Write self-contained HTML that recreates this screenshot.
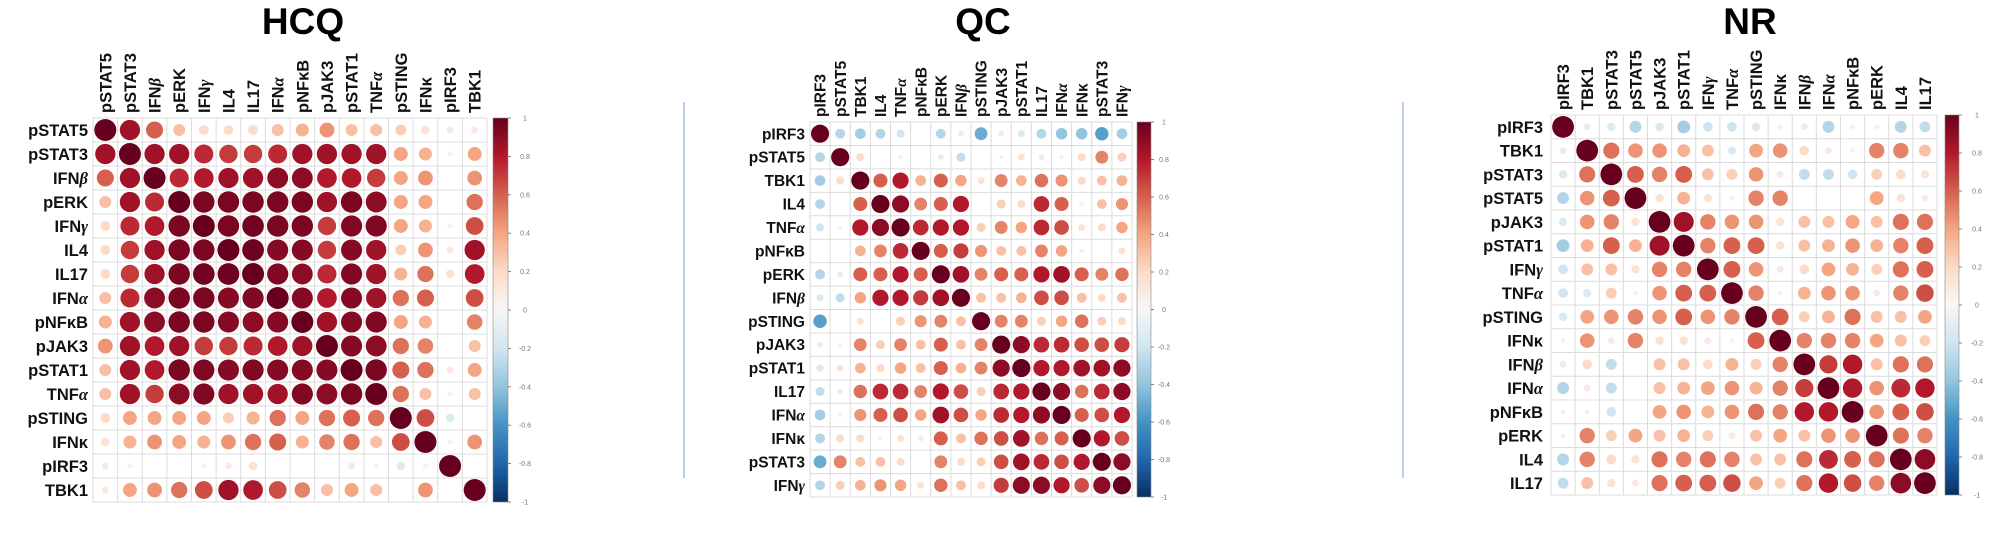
<!DOCTYPE html>
<html><head><meta charset="utf-8">
<style>
html,body{margin:0;padding:0;background:#fff;}
svg{display:block;font-family:"Liberation Sans",sans-serif;}
</style></head>
<body>
<svg id="fig" width="2000" height="534" viewBox="0 0 2000 534" xmlns="http://www.w3.org/2000/svg">
<line x1="684" y1="102" x2="684" y2="478" stroke="#a9bfe6" stroke-width="1.5"/>
<line x1="1403" y1="102" x2="1403" y2="478" stroke="#a9bfe6" stroke-width="1.5"/>
</svg>
<script>
const hcqLabels = ["pSTAT5","pSTAT3","IFNβ","pERK","IFNγ","IL4","IL17","IFNα","pNFκB","pJAK3","pSTAT1","TNFα","pSTING","IFNκ","pIRF3","TBK1"];
const hcqValues = [
[1,.85,.6,.3,.2,.2,.2,.3,.35,.45,.3,.3,.25,.15,-.1,.1],
[.85,1,.85,.85,.75,.7,.7,.75,.85,.85,.85,.85,.4,.35,-.05,.4],
[.6,.85,1,.75,.8,.85,.85,.9,.9,.8,.8,.7,.4,.45,0,.45],
[.3,.85,.75,1,.95,.95,.95,.95,.95,.85,.95,.9,.4,.4,0,.55],
[.2,.75,.8,.95,1,.95,.97,.95,.95,.7,.93,.93,.4,.35,.05,.65],
[.2,.7,.85,.95,.95,1,.98,.92,.92,.7,.92,.85,.25,.45,.1,.85],
[.2,.7,.85,.95,.97,.98,1,.93,.9,.75,.93,.85,.35,.55,.15,.8],
[.3,.75,.9,.95,.95,.92,.93,1,.92,.8,.92,.85,.55,.6,0,.65],
[.35,.85,.9,.95,.95,.92,.9,.92,1,.85,.92,.93,.4,.35,0,.5],
[.45,.85,.8,.85,.7,.7,.75,.8,.85,1,.92,.9,.55,.5,0,.3],
[.3,.85,.8,.95,.93,.92,.93,.92,.92,.92,1,.95,.6,.55,.1,.4],
[.3,.85,.7,.9,.93,.85,.85,.85,.93,.9,.95,1,.55,.3,.05,.3],
[.2,.4,.4,.4,.4,.25,.35,.55,.4,.55,.6,.55,1,.65,-.15,0],
[.15,.35,.45,.4,.35,.45,.55,.6,.35,.5,.55,.3,.65,1,-.05,.45],
[-.1,-.05,0,0,.05,.1,.15,0,0,0,.1,.05,-.15,-.05,1,0],
[.1,.4,.45,.55,.65,.85,.8,.65,.5,.3,.4,.3,0,.45,0,1]];
const qcLabels = ["pIRF3","pSTAT5","TBK1","IL4","TNFα","pNFκB","pERK","IFNβ","pSTING","pJAK3","pSTAT1","IL17","IFNα","IFNκ","pSTAT3","IFNγ"];
const qcValues = [
[1,-.3,-.35,-.3,-.2,0,-.3,-.1,-.5,-.1,-.15,-.3,-.4,-.4,-.55,-.35],
[-.3,1,.2,0,-.05,0,-.1,-.25,0,.05,.15,.1,-.05,.2,.5,.25],
[-.35,.2,1,.6,.8,.35,.6,.4,.15,.5,.35,.55,.45,.2,.3,.35],
[-.3,0,.6,1,.9,.5,.6,.8,0,.25,.2,.75,.6,.05,.3,.45],
[-.2,-.05,.8,.9,1,.75,.8,.8,.25,.5,.4,.75,.65,.15,.2,.4],
[0,0,.35,.5,.75,1,.6,.7,.45,.3,.3,.5,.4,.05,0,.15],
[-.3,-.1,.6,.6,.8,.6,1,.85,.5,.6,.6,.8,.85,.6,.5,.55],
[-.15,-.25,.4,.8,.8,.7,.85,1,.3,.3,.35,.65,.65,.3,.2,.3],
[-.55,0,.15,0,.25,.45,.5,.3,1,.5,.5,.25,.4,.55,.25,.2],
[-.1,.05,.5,.25,.5,.3,.6,.3,.5,1,.9,.75,.75,.65,.65,.7],
[-.15,.15,.35,.2,.4,.3,.6,.35,.5,.9,1,.8,.8,.85,.85,.9],
[-.25,.1,.55,.75,.75,.5,.8,.65,.25,.75,.8,1,.9,.55,.75,.9],
[-.35,-.05,.45,.6,.65,.4,.85,.65,.4,.75,.8,.9,1,.6,.65,.8],
[-.3,.2,.2,.05,.15,.1,.6,.3,.55,.65,.85,.55,.6,1,.8,.65],
[-.5,.5,.3,.3,.2,0,.5,.2,.25,.65,.85,.75,.65,.8,1,.9],
[-.3,.25,.35,.45,.4,.15,.55,.3,.2,.7,.9,.9,.8,.65,.9,1]];
const nrLabels = ["pIRF3","TBK1","pSTAT3","pSTAT5","pJAK3","pSTAT1","IFNγ","TNFα","pSTING","IFNκ","IFNβ","IFNα","pNFκB","pERK","IL4","IL17"];
const nrValues = [
[1,-.1,-.15,-.3,-.15,-.35,-.2,-.2,-.15,-.05,-.1,-.3,-.05,-.05,-.3,-.25],
[-.1,1,.55,.45,.45,.35,.3,-.15,.4,.45,.2,.1,.05,.5,.5,.3],
[-.15,.55,1,.6,.5,.6,.3,.25,.45,.1,-.25,-.25,-.2,.25,.2,.15],
[-.3,.45,.6,1,.15,.35,.15,.05,.5,.5,0,0,0,.4,.15,.1],
[-.15,.45,.5,.15,1,.85,.5,.45,.45,.15,.3,.3,.4,.3,.55,.55],
[-.35,.35,.6,.35,.85,1,.5,.6,.6,.15,.3,.35,.45,.35,.5,.6],
[-.2,.3,.3,.15,.5,.5,1,.6,.45,.1,.2,.4,.35,.25,.55,.6],
[-.2,-.15,.25,.05,.45,.6,.6,1,.5,.05,.35,.45,.45,.1,.5,.65],
[-.15,.4,.45,.5,.45,.6,.45,.5,1,.6,.25,.35,.55,.3,.3,.4],
[-.05,.45,.1,.5,.15,.15,.1,.05,.6,1,.5,.5,.5,.4,.3,.25],
[-.1,.2,-.25,0,.3,.3,.2,.35,.25,.5,1,.7,.8,.3,.55,.55],
[-.3,.1,-.25,0,.3,.35,.4,.45,.35,.5,.7,1,.8,.45,.75,.8],
[-.05,.05,-.2,0,.4,.45,.35,.45,.55,.5,.8,.8,1,.45,.6,.65],
[-.05,.5,.25,.4,.3,.35,.25,.1,.3,.4,.3,.45,.45,1,.55,.5],
[-.3,.5,.2,.15,.55,.5,.55,.5,.3,.3,.55,.75,.6,.55,1,.9],
[-.25,.3,.15,.1,.55,.6,.6,.65,.4,.25,.55,.8,.65,.5,.9,1]];
const colorbarTicks = [1,0.8,0.6,0.4,0.2,0,-0.2,-0.4,-0.6,-0.8,-1];
const panelTitles = ["HCQ","QC","NR"];

const NS = "http://www.w3.org/2000/svg";
const svg = document.getElementById("fig");
const stops = ["#053061","#2166AC","#4393C3","#92C5DE","#D1E5F0","#F7F7F7","#FDDBC7","#F4A582","#D6604D","#B2182B","#67001F"];
function hex(h){return [1,3,5].map(i=>parseInt(h.substr(i,2),16));}
function colorOf(v){
  const t=(Math.max(-1,Math.min(1,v))+1)/2*10; const i=Math.min(9,Math.floor(t)); const f=t-i;
  const a=hex(stops[i]), b=hex(stops[i+1]);
  return "rgb("+a.map((c,k)=>Math.round(c+(b[k]-c)*f)).join(",")+")";
}
function mk(tag, attrs, parent){const e=document.createElementNS(NS,tag);for(const k in attrs)e.setAttribute(k,attrs[k]);(parent||svg).appendChild(e);return e;}
function setLabel(t, label){
  const m = label.match(/^(.*?)([αβγ])$/);
  if(m){ t.appendChild(document.createTextNode(m[1])); const ts=document.createElementNS(NS,"tspan"); ts.setAttribute("font-style","italic"); ts.setAttribute("font-family","Liberation Serif, serif"); ts.textContent=m[2]; t.appendChild(ts);} else t.textContent=label;
}
const panels = [
 {labels:hcqLabels, values:hcqValues, x0:93, x1:487, y0:118, y1:502, cbx:493, cbw:15, tickx:525, titleX:303, rowEnd:88, fs:16.5},
 {labels:qcLabels, values:qcValues, x0:810, x1:1132, y0:122, y1:497, cbx:1137, cbw:14, tickx:1164, titleX:983, rowEnd:805, fs:15.5},
 {labels:nrLabels, values:nrValues, x0:1551, x1:1937, y0:115, y1:495, cbx:1945, cbw:14, tickx:1977, titleX:1750, rowEnd:1543, fs:16.5}
];
panels.forEach((p,pi)=>{
  const g = mk("g",{});
  
  
  const n=p.labels.length, cw=(p.x1-p.x0)/n, ch=(p.y1-p.y0)/n;
  const xS=j=>p.x0+cw*(j+0.5), yS=i=>p.y0+ch*(i+0.5);
  const maxR=Math.min(cw,ch)/2-1;
  const title=mk("text",{x:p.titleX,y:34,"text-anchor":"middle","font-size":37,"font-weight":"bold",fill:"#000"},g);
  
  
  title.textContent=panelTitles[pi];
  for(let k=0;k<=n;k++){
    const vl=mk("line",{x1:p.x0+cw*k,x2:p.x0+cw*k,y1:p.y0,y2:p.y1,stroke:"#dcdcdc","stroke-width":1},g);
    
    
    const hl=mk("line",{x1:p.x0,x2:p.x1,y1:p.y0+ch*k,y2:p.y0+ch*k,stroke:"#dcdcdc","stroke-width":1},g);
    
    
  }
  p.values.forEach((row,i)=>row.forEach((v,j)=>{
    const c=mk("circle",{cx:xS(j),cy:yS(i),r:(maxR*Math.sqrt(Math.abs(v))).toFixed(2),fill:colorOf(v)},g);
    
    
  }));
  p.labels.forEach((lab,i)=>{
    const t=mk("text",{x:p.rowEnd,y:yS(i)+p.fs*0.36,"text-anchor":"end","font-size":p.fs,"font-weight":"bold",fill:"#111"},g);
    
    
    setLabel(t,lab);
    const cx=xS(i)+p.fs*0.36, cy=p.y0-5;
    const tc=mk("text",{x:cx,y:cy,"text-anchor":"start","font-size":p.fs,"font-weight":"bold",fill:"#111",transform:"rotate(-90 "+cx+" "+cy+")"},g);
    
    
    setLabel(tc,lab);
  });
  const gid="cbgrad"+pi;
  const defs=mk("defs",{},g);
  const lg=mk("linearGradient",{id:gid,x1:0,y1:1,x2:0,y2:0},defs);
  stops.forEach((s,k)=>mk("stop",{offset:(k/10),"stop-color":s},lg));
  const cb=mk("rect",{x:p.cbx,y:p.y0,width:p.cbw,height:p.y1-p.y0,fill:"url(#"+gid+")",stroke:"#888","stroke-width":0.6},g);
  
  
  const cbY=v=>p.y0+(1-v)/2*(p.y1-p.y0);
  colorbarTicks.forEach(v=>{
    const tk=mk("line",{x1:p.cbx+p.cbw,x2:p.cbx+p.cbw+3,y1:cbY(v),y2:cbY(v),stroke:"#666","stroke-width":0.8},g);
    
    
    const tl=mk("text",{x:p.tickx,y:cbY(v)+2.5,"text-anchor":"middle","font-size":7,fill:"#777"},g);
    
    
    tl.textContent=String(v);
  });
});
</script>
</body></html>
